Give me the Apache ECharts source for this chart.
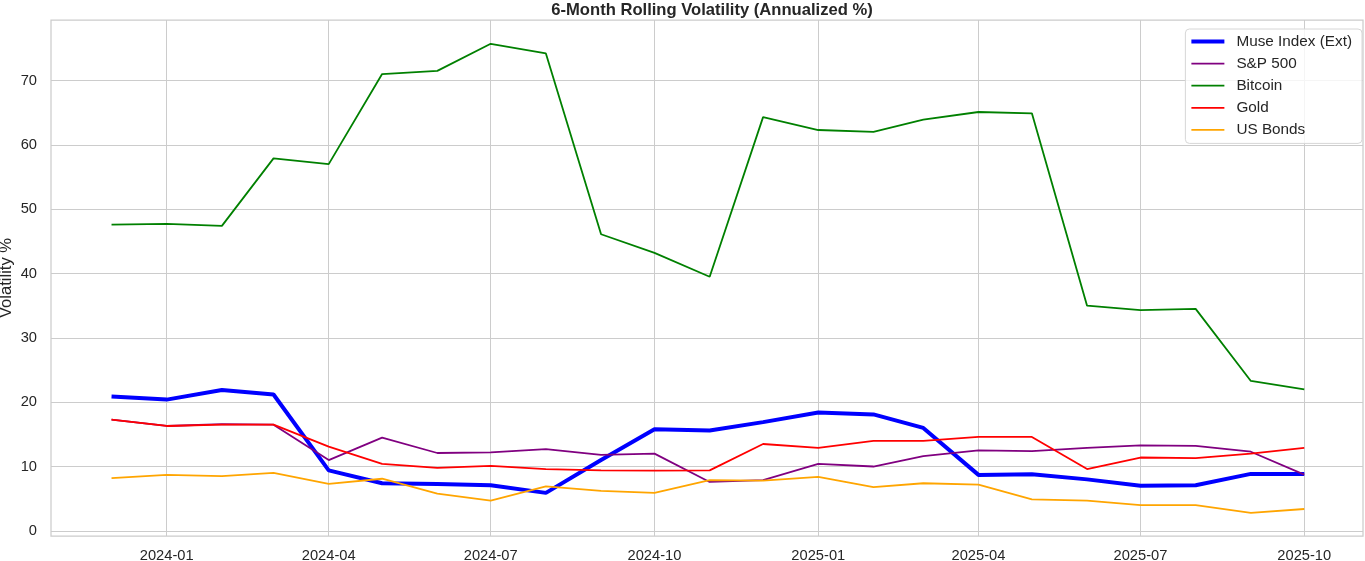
<!DOCTYPE html>
<html lang="en">
<head>
    <meta charset="UTF-8">
    <title>6-Month Rolling Volatility</title>
    <script src="https://cdn.jsdelivr.net/npm/echarts@6.0.0/dist/echarts.min.js"></script>
    <style>
        html, body { margin: 0; padding: 0; background: #fff; }
        #chart { width: 1365px; height: 561px; }
    </style>
</head>
<body>
    <div id="chart"></div>
    <script>
        // monthly points (month start)
        const months = [
            '2023-12', '2024-01', '2024-02', '2024-03', '2024-04', '2024-05', '2024-06',
            '2024-07', '2024-08', '2024-09', '2024-10', '2024-11', '2024-12',
            '2025-01', '2025-02', '2025-03', '2025-04', '2025-05', '2025-06',
            '2025-07', '2025-08', '2025-09', '2025-10'
        ];
        const museIndex = [20.9, 20.4, 21.9, 21.2, 9.4, 7.4, 7.3, 7.1, 5.9, 11.0, 15.8, 15.6, 16.9, 18.4, 18.1, 16.0, 8.7, 8.8, 8.0, 7.0, 7.1, 8.85, 8.85];
        const sp500 = [17.3, 16.3, 16.6, 16.5, 11.0, 14.5, 12.1, 12.2, 12.7, 11.8, 12.0, 7.6, 7.9, 10.4, 10.0, 11.6, 12.5, 12.4, 12.9, 13.3, 13.2, 12.3, 8.75];
        const bitcoin = [47.6, 47.7, 47.4, 57.9, 57.0, 71.0, 71.5, 75.7, 74.2, 46.1, 43.2, 39.5, 64.3, 62.3, 62.0, 63.9, 65.1, 64.9, 35.0, 34.3, 34.5, 23.3, 22.0];
        const gold = [17.3, 16.3, 16.5, 16.5, 13.1, 10.4, 9.8, 10.1, 9.6, 9.4, 9.35, 9.4, 13.5, 12.9, 14.0, 14.0, 14.6, 14.6, 9.6, 11.4, 11.3, 12.0, 12.9];
        const usBonds = [8.2, 8.7, 8.5, 9.0, 7.3, 8.1, 5.8, 4.7, 6.9, 6.2, 5.9, 7.9, 7.8, 8.4, 6.8, 7.4, 7.2, 4.9, 4.7, 4.0, 4.0, 2.8, 3.4];

        const xTicks = ['2024-01', '2024-04', '2024-07', '2024-10', '2025-01', '2025-04', '2025-07', '2025-10'];
        const yTicks = [0, 10, 20, 30, 40, 50, 60, 70];

        function toTime(m) {
            const p = m.split('-');
            return new Date(+p[0], +p[1] - 1, 1).getTime();
        }

        function pairs(values) {
            return months.map((m, i) => [toTime(m), values[i]]);
        }

        const font = "'Liberation Sans', Arial, sans-serif";
        const textColor = '#262626';

        const chart = echarts.init(document.getElementById('chart'));

        function line(name, values, color, width) {
            return {
                name: name,
                type: 'line',
                data: pairs(values),
                symbol: 'none',
                smooth: false,
                lineStyle: { color: color, width: width },
                itemStyle: { color: color },
                emphasis: { disabled: true }
            };
        }

        const seriesList = [
            line('Muse Index (Ext)', museIndex, '#0000ff', 4),
            line('S&P 500', sp500, '#800080', 1.8),
            line('Bitcoin', bitcoin, '#008000', 1.8),
            line('Gold', gold, '#ff0000', 1.8),
            line('US Bonds', usBonds, '#ffa500', 1.8)
        ];

        chart.setOption({
            animation: false,
            textStyle: { fontFamily: font },
            title: {
                text: '6-Month Rolling Volatility (Annualized %)',
                left: 707,
                textAlign: 'center',
                top: -3,
                textStyle: { fontSize: 16.6, fontWeight: 'bold', color: textColor, fontFamily: font }
            },
            legend: {
                orient: 'vertical',
                right: 3,
                top: 29,
                itemWidth: 33,
                itemHeight: 14,
                itemGap: 7.1,
                padding: [5, 10, 6, 4],
                backgroundColor: 'rgba(255,255,255,0.8)',
                borderColor: '#d6d6d6',
                borderWidth: 1,
                borderRadius: 4,
                itemStyle: { opacity: 0 },
                textStyle: { fontSize: 15.3, color: textColor, fontFamily: font, padding: [0, 0, 0, 7] },
                data: seriesList.map(s => ({
                    name: s.name,
                    lineStyle: { width: s.lineStyle.width, color: s.lineStyle.color }
                }))
            },
            grid: {
                left: 51,
                right: 2,
                top: 20,
                bottom: 25,
                outerBoundsMode: 'none',
                containLabel: false,
                show: true,
                borderColor: '#cccccc',
                borderWidth: 1.25
            },
            xAxis: {
                type: 'time',
                min: new Date(2023, 9, 28).getTime(),
                max: new Date(2025, 10, 3).getTime(),
                axisLine: { show: false },
                axisTick: { show: false, customValues: xTicks.map(toTime) },
                axisLabel: {
                    customValues: xTicks.map(toTime),
                    formatter: '{yyyy}-{MM}',
                    fontSize: 14.7,
                    color: textColor,
                    margin: 12,
                    fontFamily: font
                },
                splitLine: { show: true, lineStyle: { color: '#cccccc', width: 1 } }
            },
            yAxis: {
                type: 'value',
                min: -0.8,
                max: 79.4,
                name: 'Volatility %',
                nameLocation: 'middle',
                nameGap: 36,
                nameMoveOverlap: false,
                nameTextStyle: { fontSize: 16.6, color: textColor, fontFamily: font },
                axisLine: { show: false },
                axisTick: { show: false, customValues: yTicks },
                axisLabel: {
                    customValues: yTicks,
                    fontSize: 14.7,
                    color: textColor,
                    margin: 14,
                    fontFamily: font
                },
                splitLine: { show: true, lineStyle: { color: '#cccccc', width: 1 } }
            },
            series: seriesList
        });

        window.addEventListener('resize', function () {
            chart.resize();
        });
    </script>
</body>
</html>
